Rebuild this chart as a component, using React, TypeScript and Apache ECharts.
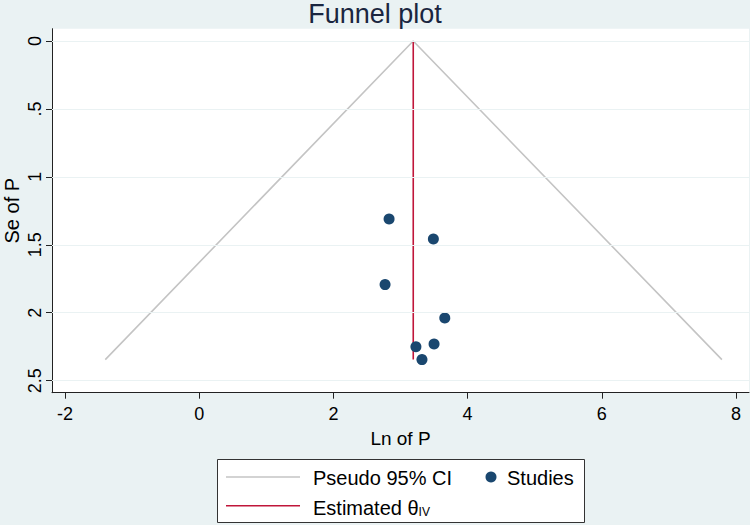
import React, { useEffect, useRef } from "react";
import * as echarts from "echarts";

// Studies: effect (Ln of P) and standard error (Se of P)
const lnP = [2.83, 3.49, 2.77, 3.66, 3.23, 3.5, 3.32];
const seP = [1.31, 1.457, 1.793, 2.038, 2.25, 2.23, 2.345];
// Pseudo 95% CI funnel vertices
const funnelX = [-1.4, 3.19, 7.79];
const funnelSe = [2.345, 0, 2.345];
// Estimated theta (IV) line
const thetaX = [3.19, 3.19];
const thetaSe = [0, 2.345];
// Ticks
const xTicks = [-2, 0, 2, 4, 6, 8];
const yTicks = [0, 0.5, 1, 1.5, 2, 2.5];
const yTickLabels = ["0", ".5", "1", "1.5", "2", "2.5"];

const FONT = "'Liberation Sans', Arial, Helvetica, sans-serif";
const BG = "#EAF2F3";
const NAVY = "#1A476F";
const GRAY = "#C4C4C4";
const RED = "#C0163A";

export default function App() {
  const ref = useRef<HTMLDivElement>(null);
  useEffect(() => {
    if (!ref.current) return;
    const chart = echarts.init(ref.current, undefined, { renderer: "svg" });
    const axisLine = { show: true, onZero: false, lineStyle: { color: "#222", width: 1 } };
    chart.setOption({
      animation: false,
      backgroundColor: BG,
      textStyle: { fontFamily: FONT },
      grid: {
        left: 52,
        top: 28.7,
        right: 1,
        bottom: 132.3,
        show: true,
        backgroundColor: "#fff",
        borderWidth: 0,
        containLabel: false,
        outerBoundsMode: "none",
      },
      xAxis: {
        type: "value",
        min: -2.194,
        max: 8.194,
        axisLine,
        axisTick: { show: true, customValues: xTicks, length: 6, lineStyle: { color: "#222" } },
        axisLabel: {
          customValues: xTicks,
          fontSize: 18,
          color: "#000",
          fontFamily: FONT,
          margin: 12,
          formatter: (v: number) => String(v),
        },
        splitLine: { show: false },
        name: "Ln of P",
        nameLocation: "middle",
        nameGap: 36,
        nameMoveOverlap: false,
        nameTextStyle: { fontSize: 19, color: "#000", fontFamily: FONT },
      },
      yAxis: {
        type: "value",
        inverse: true,
        min: -0.0905,
        max: 2.5885,
        axisLine,
        axisTick: { show: true, customValues: yTicks, length: 6, lineStyle: { color: "#222" } },
        axisLabel: {
          customValues: yTicks,
          rotate: 90,
          fontSize: 18,
          color: "#000",
          fontFamily: FONT,
          margin: 8,
          formatter: (v: number) => {
            const i = yTicks.findIndex((t) => Math.abs(t - v) < 1e-6);
            return i >= 0 ? yTickLabels[i] : "";
          },
        },
        splitLine: { show: false },
        name: "Se of P",
        nameLocation: "middle",
        nameRotate: 90,
        nameGap: 30,
        nameMoveOverlap: false,
        nameTextStyle: { fontSize: 20, color: "#000", fontFamily: FONT },
      },
      series: [
        {
          type: "line",
          data: [],
          silent: true,
          z: 1,
          markLine: {
            silent: true,
            symbol: "none",
            label: { show: false },
            lineStyle: { color: BG, width: 1.2, type: "solid" },
            data: yTicks.map((t) => ({ yAxis: t })),
          },
        },
        {
          name: "Pseudo 95% CI",
          type: "line",
          data: funnelX.map((x, i) => [x, funnelSe[i]]),
          showSymbol: false,
          lineStyle: { color: GRAY, width: 1.6 },
          z: 2,
        },
        {
          name: "Estimated",
          type: "line",
          data: thetaX.map((x, i) => [x, thetaSe[i]]),
          showSymbol: false,
          lineStyle: { color: RED, width: 1.6 },
          z: 3,
        },
        {
          name: "Studies",
          type: "scatter",
          data: lnP.map((x, i) => [x, seP[i]]),
          symbolSize: 11,
          itemStyle: { color: NAVY, opacity: 1 },
          z: 4,
        },
      ],
      graphic: [
        {
          type: "text",
          left: "center",
          top: 0,
          style: { text: "Funnel plot", fontSize: 27, fill: "#1a2640", fontFamily: FONT },
        },
        {
          type: "rect",
          shape: { x: 217.5, y: 459.5, width: 367, height: 63 },
          style: { fill: "#fff", stroke: "#333", lineWidth: 1 },
        },
        {
          type: "line",
          shape: { x1: 226, y1: 477, x2: 300, y2: 477 },
          style: { stroke: GRAY, lineWidth: 1.6 },
        },
        {
          type: "text",
          x: 313,
          y: 478,
          style: { text: "Pseudo 95% CI", fontSize: 20, fill: "#000", fontFamily: FONT, verticalAlign: "middle" },
        },
        {
          type: "circle",
          shape: { cx: 491, cy: 477, r: 5.5 },
          style: { fill: NAVY },
        },
        {
          type: "text",
          x: 507,
          y: 478,
          style: { text: "Studies", fontSize: 20, fill: "#000", fontFamily: FONT, verticalAlign: "middle" },
        },
        {
          type: "line",
          shape: { x1: 226, y1: 505.7, x2: 300, y2: 505.7 },
          style: { stroke: RED, lineWidth: 1.6 },
        },
        {
          type: "text",
          x: 313,
          y: 507,
          style: {
            text: "{a|Estimated θ}{s|IV}",
            verticalAlign: "middle",
            rich: {
              a: { fontSize: 20, fill: "#000", fontFamily: FONT, verticalAlign: "bottom", lineHeight: 22 },
              s: { fontSize: 12, fill: "#000", fontFamily: FONT, verticalAlign: "bottom", lineHeight: 18 },
            },
          },
        },
      ],
    });
    return () => chart.dispose();
  }, []);
  return (
    <div
      ref={ref}
      style={{ position: "fixed", left: 0, top: 0, width: 750, height: 525 }}
    />
  );
}
